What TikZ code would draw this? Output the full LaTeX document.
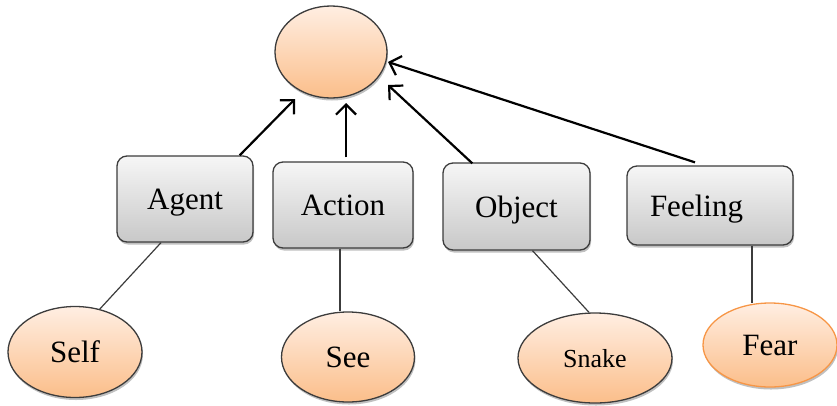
\documentclass[tikz,border=0pt]{standalone}
\usepackage{fontspec}
\setmainfont{Liberation Serif}
\usetikzlibrary{shapes.geometric,shadows,arrows.meta,calc}

\definecolor{peachtop}{HTML}{FFEEE2}
\definecolor{peachbot}{HTML}{FBBE8A}
\definecolor{greytop}{HTML}{F6F6F6}
\definecolor{greybot}{HTML}{C8C8C8}
\definecolor{rimgrey}{HTML}{3C3C3C}
\definecolor{rimorange}{HTML}{F79646}

\tikzset{
  softshadow/.style={drop shadow={shadow xshift=1pt, shadow yshift=-2.5pt, fill=black!45, opacity=0.55}},
  rolebox/.style={draw=rimgrey, line width=1.3pt, rounded corners=10pt,
    top color=greytop, bottom color=greybot, softshadow,
    font=\fontsize{31}{31}\selectfont, text height=21pt, text depth=0pt,
    inner sep=0pt, align=center},
  filler/.style={ellipse, draw=rimgrey, line width=1.3pt,
    top color=peachtop, bottom color=peachbot, softshadow,
    font=\fontsize{31}{31}\selectfont, text height=21pt, text depth=0pt,
    inner sep=0pt},
  uparrow/.style={draw=black, line width=2.2pt, -{Straight Barb[length=10pt,width=20pt]}},
  link/.style={draw=rimgrey, line width=1.2pt}
}

\begin{document}
\begin{tikzpicture}[x=1pt, y=-1pt]
  \useasboundingbox (0,0) rectangle (837,405);

  % central frame node
  \node[filler, minimum width=112pt, minimum height=92pt] (frame) at (331,52) {};

  % role boxes
  \node[rolebox, minimum width=136pt, minimum height=86pt] (agent)  at (185,199)   {Agent};
  \node[rolebox, minimum width=140pt, minimum height=86pt] (action) at (343,205)   {Action};
  \node[rolebox, minimum width=147pt, minimum height=87pt] (object) at (516.5,206.5) {Object};
  \node[rolebox, minimum width=166pt, minimum height=79pt, text width=120pt,
        inner xsep=23pt, align=left] (feeling) at (710,205.5) {Feeling};

  % role fillers
  \node[filler, minimum width=134pt, minimum height=91pt] (self)  at (75,352)  {Self};
  \node[filler, minimum width=133pt, minimum height=90pt] (see)   at (348,357) {See};
  \node[filler, minimum width=154pt, minimum height=90pt,
        font=\fontsize{26}{26}\selectfont, text height=18pt] (snake) at (595,358) {Snake};
  \node[filler, draw=rimorange, minimum width=134pt, minimum height=84pt] (fear) at (770,345) {Fear};

  % roles point up to the frame
  \draw[uparrow] ($(agent.north east)+(-14,0)$) -- ($(frame.center)+(-36,47)$);
  \draw[uparrow] ($(action.north)+(3,-4)$) -- ($(frame.center)+(15,51)$);
  \draw[uparrow] ($(object.north west)+(30,1)$) -- ($(frame.center)+(57,33)$);
  \draw[uparrow] ($(feeling.north)+(-15,-3)$) -- ($(frame.center)+(57,10)$);

  % fillers hang below their roles
  \draw[link] ($(agent.south)+(-24,0)$) -- (self.60);
  \draw[link] ($(action.south)+(-3,0)$) -- ($(see.north)+(-8,0)$);
  \draw[link] ($(object.south)+(16,0)$) -- ($(snake.north)+(-6,0)$);
  \draw[link] ($(feeling.south)+(42,0)$) -- ($(fear.north)+(-18,1)$);
\end{tikzpicture}
\end{document}
